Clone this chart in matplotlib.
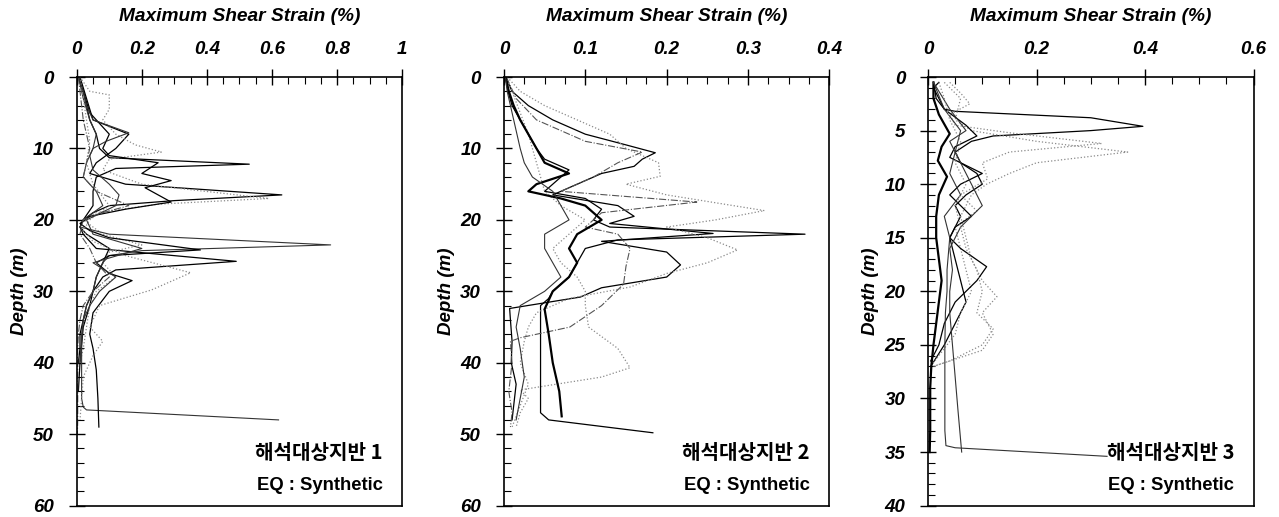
import numpy as np
import matplotlib
matplotlib.use("Agg")
import matplotlib.pyplot as plt
from matplotlib.ticker import MultipleLocator, FuncFormatter

plt.rcParams['font.family'] = ['Liberation Sans', 'DejaVu Sans']

# ---- site 1 (depth m, max shear strain %) ----
s1_z_a = [0, 2, 4, 6, 8, 10, 11.3, 12.2, 12.8, 14, 16, 18, 20, 21, 22, 24, 26, 28, 30, 32, 34, 36, 38, 40]
s1_s_a = [0.005, 0.02, 0.03, 0.04, 0.06, 0.07, 0.1, 0.53, 0.12, 0.06, 0.05, 0.05, 0.02, 0.01, 0.03, 0.1, 0.08, 0.06, 0.05, 0.03, 0.02, 0.01, 0.01, 0.005]
s1_z_b = [0, 3, 6, 8, 10, 12, 13.5, 15, 16.5, 17.3, 18, 19, 20, 21, 22, 24, 25.8, 27, 28, 30, 32, 35, 40, 44]
s1_s_b = [0.01, 0.03, 0.05, 0.16, 0.12, 0.06, 0.04, 0.15, 0.63, 0.3, 0.1, 0.05, 0.02, 0.01, 0.02, 0.06, 0.49, 0.12, 0.08, 0.05, 0.04, 0.02, 0.01, 0.005]
s1_z_c = [0, 2, 2.5, 4.5, 6, 8, 9.5, 10.5, 11.5, 13, 15, 17, 17.8, 19, 20, 22, 23.5, 24.5, 26, 28, 30, 32, 35, 38, 40]
s1_s_c = [0.01, 0.04, 0.1, 0.1, 0.08, 0.12, 0.18, 0.26, 0.1, 0.08, 0.2, 0.59, 0.25, 0.06, 0.02, 0.08, 0.2, 0.1, 0.08, 0.12, 0.06, 0.04, 0.03, 0.02, 0.01]
s1_z_d = [0, 3, 6, 8, 10, 12, 14, 16, 18, 19, 20, 21, 22, 23.5, 24.3, 25, 26, 28, 30, 32, 34, 36, 40, 45, 46.2, 46.6, 48]
s1_s_d = [0.005, 0.02, 0.04, 0.06, 0.05, 0.03, 0.02, 0.06, 0.08, 0.05, 0.02, 0.01, 0.1, 0.78, 0.2, 0.1, 0.08, 0.06, 0.05, 0.03, 0.02, 0.015, 0.015, 0.015, 0.02, 0.03, 0.62]
s1_z_e = [0, 2, 5, 8, 10, 11, 12, 13.5, 14.5, 15.5, 17.5, 18.5, 19.5, 20.5, 21.5, 22.5, 24.2, 25, 26, 27.5, 28.5, 30, 33, 36, 38, 41, 45, 49]
s1_s_e = [0.005, 0.02, 0.04, 0.1, 0.08, 0.1, 0.25, 0.2, 0.29, 0.21, 0.29, 0.15, 0.04, 0.01, 0.04, 0.1, 0.38, 0.1, 0.06, 0.1, 0.17, 0.1, 0.05, 0.04, 0.05, 0.06, 0.065, 0.068]
s1_z_f = [0, 3, 6, 9, 12, 15, 18, 20, 21.5, 23, 25, 27.4, 29.8, 32, 35, 37, 39, 42, 45, 48]
s1_s_f = [0.01, 0.02, 0.03, 0.04, 0.03, 0.05, 0.1, 0.04, 0.02, 0.05, 0.15, 0.35, 0.23, 0.07, 0.04, 0.08, 0.05, 0.02, 0.015, 0.01]
s1_z_g = [0, 2, 4, 6, 8, 10, 12, 14, 16, 18, 19, 20, 22, 24, 26, 28, 30, 32, 34, 36, 38, 40, 44, 48, 50]
s1_s_g = [0.005, 0.01, 0.015, 0.02, 0.03, 0.04, 0.03, 0.02, 0.06, 0.16, 0.08, 0.02, 0.01, 0.04, 0.06, 0.1, 0.05, 0.02, 0.01, 0.005, 0.003, 0.003, 0.003, 0.003, 0.002]
s1_z_h = [0, 2, 4, 6, 7.8, 9, 10, 11, 13, 15, 16.5, 18, 20, 22, 24, 26, 28, 30, 32, 34, 37, 40]
s1_s_h = [0.005, 0.02, 0.03, 0.05, 0.16, 0.09, 0.05, 0.04, 0.05, 0.1, 0.13, 0.12, 0.03, 0.05, 0.2, 0.05, 0.12, 0.07, 0.04, 0.02, 0.015, 0.01]

# ---- site 2 ----
s2_z_a = [0, 2, 4, 6, 8, 10, 11.5, 13, 15, 16, 17, 18.5, 20, 21, 22, 22.8, 24, 26, 28, 30, 31, 32, 36, 40, 44, 47, 48, 49.8]
s2_s_a = [0.002, 0.005, 0.01, 0.02, 0.03, 0.04, 0.05, 0.08, 0.06, 0.05, 0.1, 0.12, 0.11, 0.13, 0.37, 0.14, 0.1, 0.09, 0.08, 0.06, 0.055, 0.045, 0.045, 0.045, 0.045, 0.045, 0.055, 0.183]
s2_z_b = [0, 2, 4, 6, 8, 9.5, 10.6, 11.5, 12.5, 13.5, 15, 16.5, 18, 19.5, 20.5, 21.9, 23, 24.5, 26.3, 28, 29.5, 30.8, 32.4, 34, 37, 40, 43, 46, 48]
s2_s_b = [0.002, 0.01, 0.03, 0.06, 0.1, 0.15, 0.186, 0.17, 0.16, 0.12, 0.09, 0.06, 0.14, 0.16, 0.13, 0.257, 0.12, 0.2, 0.217, 0.2, 0.12, 0.094, 0.007, 0.008, 0.01, 0.009, 0.015, 0.012, 0.01]
s2_z_c = [0, 2, 4, 6, 8, 10, 12, 13.9, 15, 16.5, 18.7, 20, 21, 22.5, 24.2, 26, 27.5, 29.4, 31, 33, 35, 37, 40, 43, 46, 49]
s2_s_c = [0.004, 0.02, 0.05, 0.09, 0.13, 0.15, 0.19, 0.192, 0.15, 0.2, 0.32, 0.26, 0.2, 0.25, 0.287, 0.25, 0.2, 0.155, 0.08, 0.04, 0.03, 0.025, 0.02, 0.03, 0.02, 0.01]
s2_z_d = [0, 3, 6, 9, 10.5, 12, 14, 16, 17.5, 19, 21, 22, 24, 26.5, 29, 32, 35, 36.5, 37, 40, 44, 47, 49]
s2_s_d = [0.003, 0.015, 0.04, 0.1, 0.17, 0.14, 0.11, 0.07, 0.237, 0.12, 0.1, 0.14, 0.155, 0.15, 0.147, 0.12, 0.081, 0.02, 0.008, 0.01, 0.006, 0.01, 0.008]
s2_z_e = [0, 2, 5, 8, 10, 12, 14, 16, 18, 20, 22, 24, 26, 28, 30, 32, 35, 38, 40.7, 42, 43.8, 45, 47, 49]
s2_s_e = [0.002, 0.01, 0.02, 0.03, 0.035, 0.04, 0.045, 0.05, 0.07, 0.1, 0.08, 0.06, 0.07, 0.09, 0.1, 0.1, 0.104, 0.14, 0.155, 0.12, 0.02, 0.03, 0.02, 0.015]
s2_z_f = [0, 2, 4, 6, 8, 10, 12, 13.5, 15, 16, 17, 18, 20, 22, 24, 26, 28, 30, 32.5, 36, 40, 44, 47.5]
s2_s_f = [0.002, 0.006, 0.012, 0.02, 0.03, 0.04, 0.05, 0.08, 0.04, 0.03, 0.07, 0.1, 0.12, 0.09, 0.08, 0.09, 0.08, 0.06, 0.05, 0.055, 0.06, 0.068, 0.071]
s2_z_g = [0, 2, 4, 6, 8, 10, 12, 14, 16, 18, 20, 22, 24, 26, 28, 30, 32, 35, 38, 42, 45, 48]
s2_s_g = [0.002, 0.004, 0.008, 0.012, 0.016, 0.02, 0.025, 0.035, 0.06, 0.07, 0.08, 0.05, 0.05, 0.06, 0.07, 0.05, 0.02, 0.015, 0.02, 0.025, 0.02, 0.015]

# ---- site 3 ----
s3_z_a = [0.5, 1, 2, 3, 3.2, 3.8, 4.6, 5.0, 5.5, 6, 7, 8, 9, 10, 11, 12, 13, 14, 15, 17, 19, 21, 23, 25, 27]
s3_s_a = [0.02, 0.01, 0.02, 0.03, 0.05, 0.3, 0.396, 0.3, 0.12, 0.08, 0.05, 0.06, 0.09, 0.1, 0.07, 0.05, 0.06, 0.05, 0.04, 0.05, 0.06, 0.07, 0.05, 0.03, 0.005]
s3_z_b = [0.5, 2, 4, 5, 6, 7, 8, 9, 10, 11, 13, 15, 17, 19, 20.5, 22, 24, 25.5, 26.5, 27]
s3_s_b = [0.03, 0.06, 0.05, 0.08, 0.2, 0.368, 0.2, 0.15, 0.108, 0.08, 0.06, 0.07, 0.08, 0.1, 0.127, 0.1, 0.12, 0.1, 0.04, 0.01]
s3_z_c = [0.5, 1.5, 2.5, 3.5, 4.5, 5.2, 6.2, 7, 8, 9.5, 11, 12.5, 14, 16, 18, 20, 22, 24, 26, 27]
s3_s_c = [0.04, 0.06, 0.077, 0.04, 0.05, 0.15, 0.32, 0.15, 0.1, 0.11, 0.06, 0.09, 0.05, 0.06, 0.07, 0.08, 0.06, 0.05, 0.02, 0.005]
s3_z_d = [0.5, 2, 3, 4.5, 5.5, 6.5, 7.5, 9, 10, 11, 12, 13, 14, 15, 16, 17.7, 19, 21, 23, 25, 26.5]
s3_s_d = [0.01, 0.015, 0.03, 0.07, 0.09, 0.05, 0.04, 0.1, 0.06, 0.04, 0.06, 0.08, 0.05, 0.04, 0.06, 0.108, 0.09, 0.05, 0.03, 0.02, 0.005]
s3_z_e = [0.5, 2, 3.5, 5.3, 6.5, 7.8, 9.3, 11, 13, 15, 17, 19, 21, 23, 25, 27, 29, 31, 33, 35]
s3_s_e = [0.01, 0.01, 0.02, 0.04, 0.025, 0.018, 0.035, 0.02, 0.015, 0.015, 0.02, 0.025, 0.02, 0.015, 0.01, 0.006, 0.004, 0.004, 0.004, 0.003]
s3_z_f = [0.5, 3, 5, 7, 9, 11, 13, 15, 18, 20, 22, 25, 28, 31, 33, 34.4, 34.6, 35.4]
s3_s_f = [0.01, 0.03, 0.06, 0.05, 0.04, 0.06, 0.03, 0.04, 0.035, 0.035, 0.032, 0.031, 0.031, 0.031, 0.031, 0.033, 0.05, 0.33]
s3_z_g = [0.5, 3, 5, 6, 8, 10, 12, 14, 16, 18, 20, 22, 25, 28, 31, 35]
s3_s_g = [0.01, 0.04, 0.07, 0.04, 0.06, 0.08, 0.1, 0.06, 0.04, 0.045, 0.04, 0.04, 0.045, 0.05, 0.055, 0.062]
s3_z_h = [0.5, 2, 4, 6, 8, 10, 12, 14, 16, 18, 20, 22, 23.5, 25, 26.5, 27]
s3_s_h = [0.02, 0.03, 0.04, 0.06, 0.05, 0.07, 0.05, 0.06, 0.07, 0.09, 0.1, 0.09, 0.12, 0.1, 0.04, 0.01]

site_names = ['해석대상지반 1', '해석대상지반 2', '해석대상지반 3']
x_max = [1.0, 0.4, 0.6]
x_major = [0.2, 0.1, 0.2]
x_minor = [0.05, 0.025, 0.05]
y_max = [60, 60, 40]
y_major = [10, 10, 5]
y_minor = [2, 2, 1]

# line looks for the scanned curves
solid = dict(color='black', lw=0.9, ls='-')
solid2 = dict(color='#333333', lw=0.8, ls='-')
dotted = dict(color='#8a8a8a', lw=0.9, ls=':')
dashdot = dict(color='#555555', lw=0.8, ls='-.')
thick = dict(color='black', lw=1.6, ls='-')

profiles = [
    [(s1_z_a, s1_s_a, solid), (s1_z_b, s1_s_b, solid), (s1_z_c, s1_s_c, dotted),
     (s1_z_d, s1_s_d, solid2), (s1_z_e, s1_s_e, solid), (s1_z_f, s1_s_f, dotted),
     (s1_z_g, s1_s_g, dashdot), (s1_z_h, s1_s_h, solid2)],
    [(s2_z_a, s2_s_a, solid), (s2_z_b, s2_s_b, solid), (s2_z_c, s2_s_c, dotted),
     (s2_z_d, s2_s_d, dashdot), (s2_z_e, s2_s_e, dotted), (s2_z_f, s2_s_f, thick),
     (s2_z_g, s2_s_g, solid2)],
    [(s3_z_a, s3_s_a, solid), (s3_z_b, s3_s_b, dotted), (s3_z_c, s3_s_c, dotted),
     (s3_z_d, s3_s_d, solid), (s3_z_e, s3_s_e, thick), (s3_z_f, s3_s_f, solid2),
     (s3_z_g, s3_s_g, solid2), (s3_z_h, s3_s_h, dotted)],
]

fig = plt.figure(figsize=(12.79, 5.17), dpi=100)
lefts = [0.060, 0.394, 0.7256]
bold_it = dict(fontweight='bold', fontstyle='italic')


def fmt(v, pos):
    if abs(v) < 1e-9:
        return '0'
    if abs(v - round(v)) < 1e-9:
        return '%d' % round(v)
    return ('%.2f' % v).rstrip('0')


for i in range(3):
    ax = fig.add_axes([lefts[i], 0.022, 0.2545, 0.829])
    for z, s, st in profiles[i]:
        ax.plot(s, z, **st)
    ax.set_xlim(0, x_max[i])
    ax.set_ylim(y_max[i], 0)
    ax.xaxis.tick_top()
    ax.xaxis.set_label_position('top')
    ax.xaxis.set_major_locator(MultipleLocator(x_major[i]))
    ax.xaxis.set_minor_locator(MultipleLocator(x_minor[i]))
    ax.yaxis.set_major_locator(MultipleLocator(y_major[i]))
    ax.yaxis.set_minor_locator(MultipleLocator(y_minor[i]))
    ax.xaxis.set_major_formatter(FuncFormatter(fmt))
    ax.tick_params(which='major', direction='inout', length=11, width=1.0)
    ax.tick_params(axis='x', which='major', pad=8.5)
    ax.tick_params(axis='y', which='major', pad=11)
    ax.tick_params(which='minor', direction='in', length=5, width=0.8)
    for lab in ax.get_xticklabels() + ax.get_yticklabels():
        lab.set_fontsize(13.5)
        lab.set_fontweight('bold')
        lab.set_fontstyle('italic')
    for sp in ax.spines.values():
        sp.set_linewidth(1.2)
    ax.set_xlabel('Maximum Shear Strain (%)', labelpad=14, fontsize=13.8, **bold_it)
    ax.set_ylabel('Depth (m)', labelpad=4, fontsize=13.5, **bold_it)
    ax.text(0.94, 0.125, site_names[i], transform=ax.transAxes, ha='right', va='center',
            fontsize=14.5, fontweight='bold', family=['Noto Sans CJK KR', 'DejaVu Sans'])
    ax.text(0.94, 0.048, 'EQ : Synthetic', transform=ax.transAxes, ha='right', va='center',
            fontsize=13.3, fontweight='bold')

fig.savefig('out.png', dpi=100)
